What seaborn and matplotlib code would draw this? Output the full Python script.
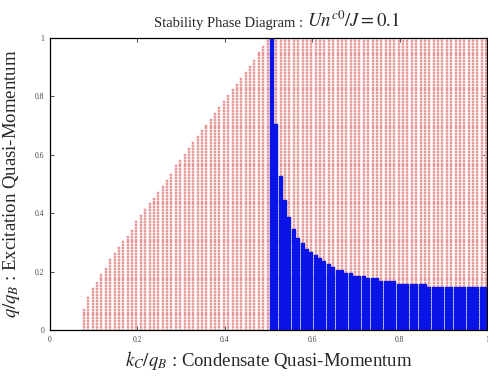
import numpy as np
import pandas as pd
import seaborn as sns
import matplotlib.pyplot as plt

# grid of the scan: condensate momentum columns, excitation momentum rows
KC_START = 0.078
KC_STEP = 0.01
q_rows = np.round(np.arange(0, 101) * 0.01, 2)

# upper edge of the unstable (red) wedge, one value per column for kc < 0.5
red_top = [0.07, 0.11, 0.14, 0.16, 0.19, 0.21, 0.24, 0.26, 0.28, 0.30,
           0.32, 0.34, 0.37, 0.39, 0.41, 0.43, 0.45, 0.47, 0.49, 0.51,
           0.53, 0.56, 0.58, 0.60, 0.62, 0.64, 0.66, 0.68, 0.70, 0.72,
           0.74, 0.76, 0.78, 0.80, 0.82, 0.84, 0.86, 0.88, 0.90, 0.92,
           0.95, 0.97, 1.00]

# upper edge of the blue region, one value per column for kc >= 0.5
blue_top = [1.00, 0.70, 0.52, 0.44, 0.38, 0.34, 0.31, 0.29, 0.27, 0.26,
            0.25, 0.24, 0.23, 0.22, 0.21, 0.20, 0.20, 0.19, 0.19, 0.18,
            0.18, 0.18, 0.17, 0.17, 0.17, 0.16, 0.16, 0.16, 0.16, 0.15,
            0.15, 0.15, 0.15, 0.15, 0.15, 0.15, 0.14, 0.14, 0.14, 0.14,
            0.14, 0.14, 0.14, 0.14, 0.14, 0.14, 0.14, 0.14, 0.14, 0.14]

# build the point table
rows = []
for i, top in enumerate(red_top):
    kc = KC_START + i * KC_STEP
    for q in q_rows[q_rows <= top + 1e-9]:
        rows.append((kc, q, 'red'))
for j, top in enumerate(blue_top):
    kc = KC_START + (len(red_top) + j) * KC_STEP
    for q in q_rows:
        rows.append((kc, q, 'blue' if q <= top + 1e-9 else 'red'))
df = pd.DataFrame(rows, columns=['kc', 'q', 'phase'])

sns.set_style('ticks')
plt.rcParams['font.family'] = ['Liberation Serif', 'DejaVu Serif']
plt.rcParams['mathtext.fontset'] = 'stix'

fig = plt.figure(figsize=(4.89, 3.79), dpi=100)
ax = fig.add_axes([0.102, 0.129, 0.894, 0.771])

sns.scatterplot(data=df[df.phase == 'red'], x='kc', y='q', marker='s', s=4.6,
                color='#f0aaaa', edgecolor='#dc8282', linewidth=0.3,
                legend=False, ax=ax)
sns.scatterplot(data=df[df.phase == 'blue'], x='kc', y='q', marker='s', s=5.2,
                color='#0a14e6', edgecolor='#0a14e6', linewidth=0.2,
                legend=False, ax=ax)

ax.set_xlim(0, 1)
ax.set_ylim(0, 1)
ticks = [0, 0.2, 0.4, 0.6, 0.8, 1]
labels = ['0', '0.2', '0.4', '0.6', '0.8', '1']
ax.set_xticks(ticks, labels)
ax.set_yticks(ticks, labels)
ax.tick_params(direction='in', length=3, width=0.6, labelsize=5.5,
               labelcolor='#444444', top=True, right=True, pad=4)
for sp in ax.spines.values():
    sp.set_linewidth(0.9)
    sp.set_color('black')

ax.set_xlabel('$k_C/q_B$ : Condensate Quasi-Momentum', fontsize=13.5, labelpad=4)
ax.set_ylabel('$q/q_B$ : Excitation Quasi-Momentum', fontsize=13.5, labelpad=9)

fig.text(0.627, 0.929, 'Stability Phase Diagram : ', ha='right', va='baseline', fontsize=10.5)
fig.text(0.627, 0.929, '$Un^{c0}/J = 0.1$', ha='left', va='baseline', fontsize=13.5)

plt.savefig('out.png', dpi=100)
